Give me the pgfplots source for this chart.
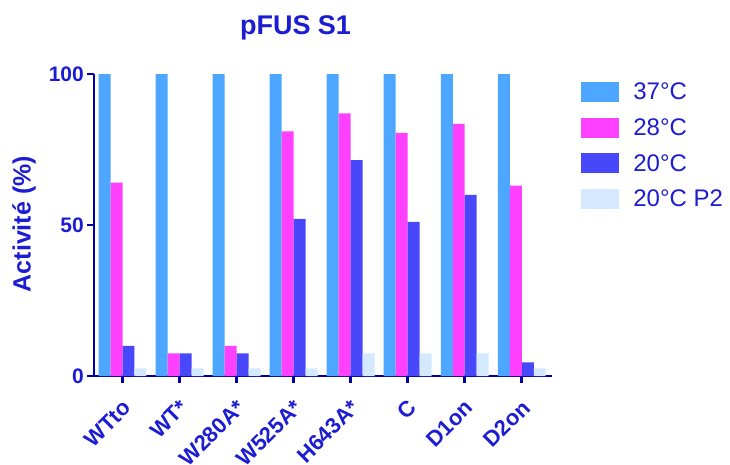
\documentclass[border=0pt]{standalone}
\usepackage{pgfplots}
\pgfplotsset{compat=1.18}
\usepackage{fontspec}
\setmainfont{Liberation Sans}
\definecolor{cA}{RGB}{77,166,255}
\definecolor{cB}{RGB}{255,64,255}
\definecolor{cC}{RGB}{72,72,250}
\definecolor{cD}{RGB}{212,232,255}
\definecolor{tblue}{RGB}{28,28,210}
\definecolor{ablue}{RGB}{0,0,170}
\pgfplotsset{myleg/.style={legend image code/.code={\fill[##1] (0pt,-10pt) rectangle (38pt,10pt);}}}
\begin{document}
\begin{tikzpicture}
\useasboundingbox (0pt,0pt) rectangle (730pt,464pt);
\begin{axis}[
  at={(94pt,88pt)}, anchor=south west,
  scale only axis, width=458pt, height=302pt,
  xmin=-0.5, xmax=7.53, ymin=0, ymax=100,
  axis lines=left, axis line style={-, line width=2.6pt, ablue},
  ybar, bar width=0.21,
  xtick={0,...,7},
  xticklabels={WTto, WT*, W280A*, W525A*, H643A*, C, D1on, D2on},
  ytick={0,50,100},
  tick align=outside, major tick length=7pt,
  tick style={line width=2.6pt, ablue},
  /pgf/number format/assume math mode=true,
  x tick label style={yshift=-14pt, xshift=-1pt, rotate=45, anchor=north east, font=\bfseries\fontsize{22}{26}\selectfont, text=tblue, inner sep=1pt},
  y tick label style={font=\bfseries\fontsize{21}{24}\selectfont, text=tblue, inner sep=2pt, xshift=-1pt},
  ylabel={Activité (\%)},
  ylabel style={at={(axis description cs:-0.153,0.503)}, anchor=center, font=\bfseries\fontsize{25}{28}\selectfont, text=tblue},
  title={pFUS S1},
  title style={at={(axis description cs:0.44,1.112)}, anchor=base, font=\bfseries\fontsize{27}{30}\selectfont, text=tblue},
  legend style={at={(axis description cs:1.057,0.985)}, anchor=north west, draw=none, fill=none,
    font=\fontsize{24}{28}\selectfont, text=tblue, nodes={inner sep=2pt}, row sep=13.5pt, column sep=12pt},
  legend cell align=left,
  clip=false,
]
\addplot[myleg, draw=none, fill=cA, bar shift=-0.315] coordinates {(0,100) (1,100) (2,100) (3,100) (4,100) (5,100) (6,100) (7,100)};
\addplot[myleg, draw=none, fill=cB, bar shift=-0.105] coordinates {(0,64) (1,7.5) (2,10) (3,81) (4,87) (5,80.5) (6,83.5) (7,63)};
\addplot[myleg, draw=none, fill=cC, bar shift=0.105] coordinates {(0,10) (1,7.5) (2,7.5) (3,52) (4,71.5) (5,51) (6,60) (7,4.5)};
\addplot[myleg, draw=none, fill=cD, bar shift=0.315] coordinates {(0,2.5) (1,2.5) (2,2.5) (3,2.5) (4,7.5) (5,7.5) (6,7.5) (7,2.5)};
\legend{37°C, 28°C, 20°C, 20°C P2}
\end{axis}
\end{tikzpicture}
\end{document}
